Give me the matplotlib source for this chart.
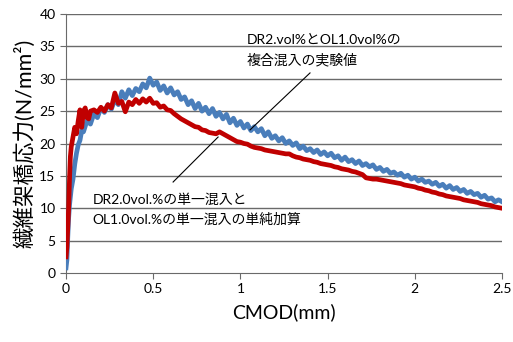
import numpy as np
import matplotlib
matplotlib.use("Agg")
import matplotlib.pyplot as plt

plt.rcParams['font.family'] = ['Lato', 'Noto Sans CJK JP', 'DejaVu Sans']

# composite mix (blue)
blue_x = [0, 0.005, 0.01, 0.015, 0.02, 0.03, 0.04, 0.05, 0.06, 0.07, 0.08, 0.09, 0.10,
          0.12, 0.14, 0.16, 0.18, 0.20, 0.22, 0.24, 0.26, 0.28, 0.30, 0.32, 0.34, 0.36,
          0.38, 0.40, 0.42, 0.44, 0.46, 0.48, 0.50, 0.52, 0.54, 0.56, 0.58, 0.60, 0.62,
          0.64, 0.66, 0.68, 0.70, 0.72, 0.74, 0.76, 0.78, 0.80, 0.82, 0.84, 0.86, 0.88,
          0.90, 0.92, 0.94, 0.96, 0.98, 1.00, 1.02, 1.04, 1.06, 1.08, 1.10, 1.12, 1.14,
          1.16, 1.18, 1.20, 1.22, 1.24, 1.26, 1.28, 1.30, 1.32, 1.34, 1.36, 1.38, 1.40,
          1.42, 1.44, 1.46, 1.48, 1.50, 1.52, 1.54, 1.56, 1.58, 1.60, 1.62, 1.64, 1.66,
          1.68, 1.70, 1.72, 1.74, 1.76, 1.78, 1.80, 1.82, 1.84, 1.86, 1.88, 1.90, 1.92,
          1.94, 1.96, 1.98, 2.00, 2.02, 2.04, 2.06, 2.08, 2.10, 2.12, 2.14, 2.16, 2.18,
          2.20, 2.22, 2.24, 2.26, 2.28, 2.30, 2.32, 2.34, 2.36, 2.38, 2.40, 2.42, 2.44,
          2.46, 2.48, 2.50]
blue_y = [0.8, 2.0, 5.5, 8.5, 10.5, 13.0, 14.5, 16.8, 18.5, 19.8, 20.5, 22.0, 21.8,
          23.5, 23.0, 24.6, 24.0, 25.5, 24.8, 26.0, 25.3, 26.8, 26.0, 28.0, 27.0, 28.3,
          27.4, 28.5, 28.0, 29.2, 28.6, 30.1, 29.0, 29.5, 28.2, 28.9, 27.8, 28.6, 27.5,
          28.0, 26.8, 27.2, 26.0, 26.6, 25.4, 26.2, 25.0, 25.6, 24.6, 25.4, 24.2, 24.8,
          23.8, 24.5, 23.2, 23.9, 22.8, 23.4, 22.4, 23.0, 22.0, 22.6, 21.8, 22.3, 21.2,
          21.8, 20.8, 21.2, 20.4, 20.9, 20.0, 20.4, 19.7, 20.1, 19.2, 19.6, 18.9, 19.2,
          18.6, 19.0, 18.3, 18.7, 18.1, 18.5, 17.8, 18.1, 17.4, 17.9, 17.2, 17.5, 16.9,
          17.3, 16.6, 16.9, 16.4, 16.7, 16.0, 16.3, 15.7, 16.0, 15.4, 15.6, 15.1, 15.4,
          14.8, 15.1, 14.5, 14.8, 14.2, 14.5, 14.0, 14.2, 13.7, 14.0, 13.4, 13.7, 13.1,
          13.5, 12.9, 13.2, 12.6, 12.9, 12.3, 12.6, 12.1, 12.3, 11.7, 12.0, 11.4, 11.6,
          11.0, 11.3, 11.0]

# simple sum of single mixes (red)
red_x = [0, 0.005, 0.01, 0.015, 0.02, 0.025, 0.03, 0.04, 0.05, 0.06, 0.07, 0.08, 0.09,
         0.10, 0.11, 0.12, 0.13, 0.14, 0.16, 0.18, 0.20, 0.22, 0.24, 0.26, 0.28, 0.30,
         0.32, 0.34, 0.36, 0.38, 0.40, 0.42, 0.44, 0.46, 0.48, 0.50, 0.52, 0.54, 0.56,
         0.58, 0.60, 0.62, 0.64, 0.66, 0.68, 0.70, 0.72, 0.74, 0.76, 0.78, 0.80, 0.82,
         0.84, 0.86, 0.88, 0.90, 0.92, 0.94, 0.96, 0.98, 1.00, 1.02, 1.04, 1.06, 1.08,
         1.10, 1.12, 1.14, 1.16, 1.18, 1.20, 1.22, 1.24, 1.26, 1.28, 1.30, 1.32, 1.34,
         1.36, 1.38, 1.40, 1.42, 1.44, 1.46, 1.48, 1.50, 1.52, 1.54, 1.56, 1.58, 1.60,
         1.62, 1.64, 1.66, 1.68, 1.70, 1.72, 1.74, 1.76, 1.78, 1.80, 1.82, 1.84, 1.86,
         1.88, 1.90, 1.92, 1.94, 1.96, 1.98, 2.00, 2.02, 2.04, 2.06, 2.08, 2.10, 2.12,
         2.14, 2.16, 2.18, 2.20, 2.22, 2.24, 2.26, 2.28, 2.30, 2.32, 2.34, 2.36, 2.38,
         2.40, 2.42, 2.44, 2.46, 2.48, 2.50]
red_y = [2.5, 4.0, 7.0, 10.0, 14.5, 18.0, 19.5, 21.0, 22.5, 21.5, 23.5, 25.2, 22.5,
         25.0, 25.5, 24.0, 23.8, 25.0, 25.2, 24.8, 25.6, 25.0, 26.0, 25.5, 27.8, 26.2,
         26.5, 24.9, 26.4, 26.0, 26.8, 26.2, 26.9, 26.4, 27.0, 26.2, 26.3, 25.6, 25.8,
         25.2, 25.1, 24.6, 24.2, 23.8, 23.5, 23.2, 22.9, 22.6, 22.5, 22.1, 22.0, 21.7,
         21.6, 21.5, 21.8, 21.5, 21.2, 20.9, 20.6, 20.3, 20.2, 20.0, 19.9, 19.6, 19.4,
         19.3, 19.2, 19.0, 18.9, 18.8, 18.7, 18.6, 18.5, 18.4, 18.4, 18.1, 17.9, 17.8,
         17.6, 17.5, 17.4, 17.2, 17.1, 16.9, 16.8, 16.7, 16.6, 16.4, 16.3, 16.1, 16.0,
         15.9, 15.7, 15.6, 15.4, 15.2, 14.7, 14.6, 14.5, 14.5, 14.4, 14.3, 14.2, 14.1,
         14.0, 13.9, 13.8, 13.6, 13.5, 13.4, 13.3, 13.1, 13.0, 12.8, 12.7, 12.5, 12.4,
         12.2, 12.1, 11.9, 11.8, 11.7, 11.6, 11.5, 11.3, 11.2, 11.1, 11.0, 10.9, 10.7,
         10.6, 10.5, 10.4, 10.2, 10.1, 10.0]

x_ticks = [0, 0.5, 1, 1.5, 2, 2.5]
x_tick_labels = ['0', '0.5', '1', '1.5', '2', '2.5']
y_ticks = [0, 5, 10, 15, 20, 25, 30, 35, 40]

label_top = 'DR2.vol%とOL1.0vol%の\n複合混入の実験値'
label_bottom = 'DR2.0vol.%の単一混入と\nOL1.0vol.%の単一混入の単純加算'

fig = plt.figure(figsize=(5.13, 3.42), dpi=100)
ax = fig.add_axes([0.1287, 0.2018, 0.8499, 0.7572])

for yv in y_ticks[1:]:
    ax.axhline(yv, color='#6a6a6a', lw=1.0, zorder=1)

ax.plot(blue_x, blue_y, color='#4a7ebb', lw=3.4, zorder=3)
ax.plot(red_x, red_y, color='#c00000', lw=3.4, zorder=4)

# leader lines
ax.plot([1.399, 1.055], [30.9, 22.1], color='black', lw=0.8, zorder=5)
ax.plot([0.614, 0.872], [14.05, 21.0], color='black', lw=0.8, zorder=5)

ax.text(1.035, 34.4, label_top, fontsize=10, ha='left', va='center',
        linespacing=1.6, zorder=6)
ax.text(0.152, 9.75, label_bottom, fontsize=10, ha='left', va='center',
        linespacing=1.6, zorder=6)

ax.set_xlim(0, 2.5)
ax.set_ylim(0, 40)
ax.set_xticks(x_ticks)
ax.set_xticklabels(x_tick_labels)
ax.set_yticks(y_ticks)
ax.tick_params(direction='out', length=4, width=0.8, colors='#6a6a6a',
               labelcolor='black', labelsize=10)
for s in ['top', 'right']:
    ax.spines[s].set_visible(False)
for s in ['left', 'bottom']:
    ax.spines[s].set_color('#6a6a6a')

ax.set_xlabel('CMOD(mm)', fontsize=14, labelpad=6)
ax.set_ylabel('繊維架橋応力(N/mm²)', fontsize=15.5, labelpad=3)

fig.savefig('out.png', dpi=100)
